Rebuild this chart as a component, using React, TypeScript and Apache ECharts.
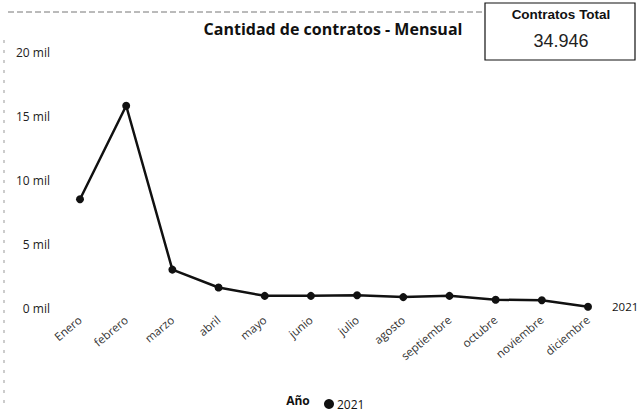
import React, { useEffect, useRef } from "react";
import * as echarts from "echarts";

const months = ["Enero", "febrero", "marzo", "abril", "mayo", "junio", "julio", "agosto", "septiembre", "octubre", "noviembre", "diciembre"];
const values2021 = [8500, 15800, 3000, 1600, 950, 950, 1000, 850, 950, 650, 600, 96];
const seriesName = "2021";
const totalLabel = "Contratos Total";
const totalValue = "34.946";
const chartTitle = "Cantidad de contratos - Mensual";
const legendTitle = "Año";

const FONT = "'Open Sans', 'Noto Sans', sans-serif";

export default function App() {
  const ref = useRef<HTMLDivElement>(null);
  useEffect(() => {
    document.body.style.margin = "0";
    const chart = echarts.init(ref.current!, null, { renderer: "svg" });
    chart.setOption({
      animation: false,
      backgroundColor: "#ffffff",
      title: {
        text: chartTitle,
        left: 328,
        textAlign: "center",
        top: 16,
        textStyle: { fontFamily: FONT, fontSize: 16, fontWeight: "bold", color: "#111" },
      },
      graphic: [
        {
          type: "line",
          shape: { x1: 8, y1: 12, x2: 485, y2: 12 },
          style: { stroke: "#777", lineWidth: 1, lineDash: [6, 3] },
        },
        {
          type: "line",
          shape: { x1: 4, y1: 40, x2: 4, y2: 410 },
          style: { stroke: "#999", lineWidth: 1, lineDash: [3, 7] },
        },
        {
          type: "rect",
          shape: { x: 485, y: 3, width: 150, height: 57 },
          style: { fill: "#fff", stroke: "#111", lineWidth: 1.2 },
        },
        {
          type: "text",
          x: 561,
          y: 14,
          style: {
            text: totalLabel,
            fontFamily: "'Liberation Sans', Arial, sans-serif",
            fontSize: 13.5,
            fontWeight: "bold",
            fill: "#111",
            align: "center",
            verticalAlign: "middle",
          },
        },
        {
          type: "text",
          x: 561,
          y: 41,
          style: {
            text: totalValue,
            fontFamily: "'Liberation Sans', Arial, sans-serif",
            fontSize: 18,
            fill: "#222",
            align: "center",
            verticalAlign: "middle",
          },
        },
        {
          type: "text",
          x: 298,
          y: 400,
          style: {
            text: legendTitle,
            fontFamily: FONT,
            fontSize: 12,
            fontWeight: "bold",
            fill: "#111",
            align: "center",
            verticalAlign: "middle",
          },
        },
      ],
      legend: {
        data: [seriesName],
        left: 319,
        top: 393,
        icon: "circle",
        itemWidth: 10,
        itemHeight: 10,
        itemGap: 4,
        textStyle: { fontFamily: FONT, fontSize: 12, color: "#111", padding: [0, 0, 0, -2] },
      },
      grid: { left: 80, right: 50, top: 52, bottom: 107 },
      xAxis: {
        type: "category",
        data: months,
        boundaryGap: false,
        axisLine: { show: false },
        axisTick: { show: false },
        axisLabel: {
          rotate: 40,
          margin: 10,
          interval: 0,
          fontFamily: FONT,
          fontSize: 11.5,
          color: "#333",
        },
      },
      yAxis: {
        type: "value",
        min: 0,
        max: 20000,
        interval: 5000,
        splitLine: { show: false },
        axisLine: { show: false },
        axisTick: { show: false },
        axisLabel: {
          margin: 30,
          fontFamily: FONT,
          fontSize: 12,
          color: "#222",
          formatter: (v: number) => `${v / 1000} mil`,
        },
      },
      series: [
        {
          name: seriesName,
          type: "line",
          data: values2021,
          symbol: "circle",
          symbolSize: 8,
          lineStyle: { color: "#111", width: 2.5 },
          itemStyle: { color: "#111" },
          endLabel: {
            show: true,
            formatter: seriesName,
            distance: 24,
            fontFamily: FONT,
            fontSize: 11.5,
            color: "#111",
          },
        },
      ],
    });
    return () => chart.dispose();
  }, []);
  return <div ref={ref} style={{ width: 638, height: 415 }} />;
}
